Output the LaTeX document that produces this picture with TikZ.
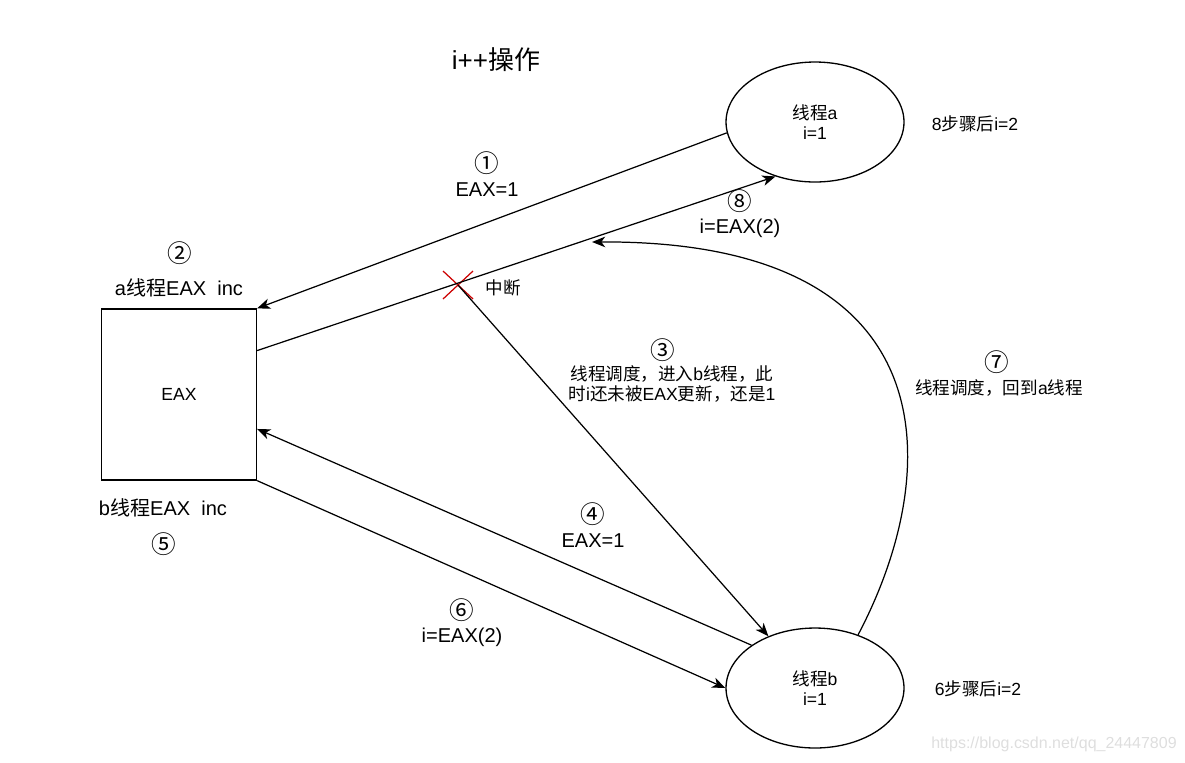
\documentclass[tikz,border=0pt]{standalone}
\usepackage{fontspec}
\setmainfont{Liberation Sans}
\newfontfamily\cjk{Noto Sans CJK SC}
\usepackage{tikz}
\usetikzlibrary{arrows.meta,calc,positioning,shapes.geometric}
\definecolor{cutred}{RGB}{204,0,0}
\definecolor{markgray}{RGB}{222,222,222}

\begin{document}
\begin{tikzpicture}[x=0.02cm,y=-0.02cm,>={Stealth[length=7.5pt,width=6pt,inset=2.2pt]},
  conn/.style={->,line width=0.7pt},
  thread/.style={draw,ellipse,line width=0.75pt,minimum width=3.56cm,minimum height=2.4cm,inner sep=0pt,align=center,font=\fontsize{10}{11.4}\selectfont},
  txt/.style={inner sep=0pt,align=center,font=\fontsize{10}{11.4}\selectfont},
  lbl/.style={inner sep=0pt,align=center,font=\fontsize{11.4}{13}\selectfont},
  stepno/.style={inner sep=0pt,font=\cjk\fontsize{14}{16}\selectfont}]
\useasboundingbox (0,0) rectangle (1185,762);
% title
\node[inner sep=0pt,font=\fontsize{14.8}{17}\selectfont] (title) at (496,60) {i++{\cjk 操作}};
% threads and register
\node[thread] (ea) at (815,122) {{\cjk 线程}a\\i=1};
\node[thread] (eb) at (815,688) {{\cjk 线程}b\\i=1};
\node[draw,line width=0.75pt,minimum width=3.1cm,minimum height=3.42cm,txt] (eax) at (179,394.5) {EAX};
\node[txt] (stepsa) at (975,124) {8{\cjk 步骤后}i=2};
\node[txt] (stepsb) at (978,689) {6{\cjk 步骤后}i=2};
% step labels
\node[stepno] (n1) at (487,163) {①};
\node[lbl] (t1) at (487,190) {EAX=1};
\node[stepno] (n2) at (180,253) {②};
\node[lbl] (t2) at (179,288) {a{\cjk 线程}EAX\ \ inc};
\node[stepno] (n3) at (663,350) {③};
\node[txt] (t3) at (672,384) {{\cjk 线程调度，进入}b{\cjk 线程，此}\\{\cjk 时}i{\cjk 还未被}EAX{\cjk 更新，还是}1};
\node[stepno] (n4) at (593,514) {④};
\node[lbl] (t4) at (593,541) {EAX=1};
\node[lbl] (t5) at (163,508) {b{\cjk 线程}EAX\ \ inc};
\node[stepno] (n5) at (164,544) {⑤};
\node[stepno] (n6) at (462,610) {⑥};
\node[lbl] (t6) at (462,637) {i=EAX(2)};
\node[stepno] (n7) at (997,362) {⑦};
\node[txt] (t7) at (999,388) {{\cjk 线程调度，回到}a{\cjk 线程}};
\node[stepno] (n8) at (740,201) {⑧};
\node[lbl] (t8) at (740,228) {i=EAX(2)};
% interrupt mark
\coordinate (cut) at (458,285);
\coordinate (back) at (592,242);
\draw[cutred,line width=0.7pt] ($(cut)+(-15,-14)$) -- ($(cut)+(15,14)$) ($(cut)+(-15,14)$) -- ($(cut)+(15,-14)$);
\node[txt] (stop) at (503,288) {{\cjk 中断}};
% connectors
\draw[conn] (ea.187) -- (eax.north east);
\draw[conn] ($(eax.north east)!0.245!(eax.south east)$) -- (ea.234);
\draw[conn] (cut) -- (eb.132);
\draw[conn] (eb.146) -- ($(eax.north east)!0.7!(eax.south east)$);
\draw[conn] (eax.south east) -- (eb.west);
\draw[conn] (eb.51) .. controls (945,470) and (950,240) .. (back);
% watermark
\node[markgray,inner sep=0pt,font=\fontsize{9.1}{11}\selectfont] (mark) at (1054,744) {https://blog.csdn.net/qq\_24447809};
\end{tikzpicture}
\end{document}
